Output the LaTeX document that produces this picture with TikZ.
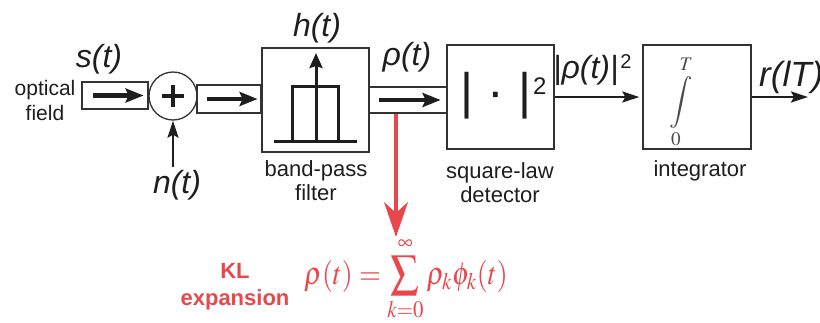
\documentclass[tikz,border=0pt]{standalone}
\usepackage{mathptmx}
\usepackage[no-math]{fontspec}
\setmainfont{Liberation Sans}
\usetikzlibrary{arrows.meta}
\definecolor{klred}{RGB}{232,72,76}
\definecolor{edge}{RGB}{51,51,51}
\definecolor{ink}{RGB}{30,30,30}
\newcommand{\fsz}[1]{\fontsize{#1}{#1}\selectfont}

\begin{document}
\begin{tikzpicture}[x=1pt, y=-1pt,
	blk/.style = {rectangle, draw=edge, line width=1.3pt, minimum width=107pt, minimum height=104pt, inner sep=0pt},
	chan/.style = {rectangle, draw=edge, line width=1.2pt, inner sep=0pt},
	sig/.style = {font=\fsz{32}\itshape, text=ink, inner sep=0pt},
	boxlabel/.style = {font=\fontsize{22}{24}\selectfont, text=ink, align=center, anchor=north, inner sep=0pt},
	bigarr/.style = {-{Stealth[length=18pt, width=14pt, inset=3pt]}, line width=4.5pt, draw=ink},
	smallarr/.style = {-{Stealth[length=17pt, width=11pt, inset=3pt]}, line width=2.5pt, draw=ink},
	klarr/.style = {-{Stealth[length=35pt, width=24pt, inset=11pt]}, line width=3.3pt, draw=klred}
	]
	\useasboundingbox (0,0) rectangle (820,322);
	
	%Nodes
	\node[boxlabel, font=\fontsize{21}{25}\selectfont]	(opt)	at	(45, 80)	{optical\\field};
	\node[chan, minimum width=66pt, minimum height=27pt]	(ch1)	at	(115, 95.5)	{};
	\node[circle, draw=edge, line width=1.3pt, minimum size=48pt, inner sep=0pt]	(sum)	at	(173, 96)	{};
	\node[chan, minimum width=64pt, minimum height=28pt]	(ch2)	at	(229, 99)	{};
	\node[blk]	(bpf)	at	(315.5, 100)	{};
	\node[chan, minimum width=78pt, minimum height=26pt]	(ch3)	at	(408, 100)	{};
	\node[blk]	(det)	at	(500.5, 97)	{};
	\node[blk, minimum width=108pt]	(integ)	at	(697, 97)	{};
	
	\node[boxlabel]	(bpflbl)	at	(316, 160)	{band-pass\\filter};
	\node[boxlabel]	(detlbl)	at	(500, 162)	{square-law\\detector};
	\node[boxlabel]	(intlbl)	at	(700, 160)	{integrator};
	
	\node[sig]	(slbl)		at	(99, 59)	{s(t)};
	\node[sig]	(nlbl)		at	(177, 185)	{n(t)};
	\node[sig]	(hlbl)		at	(317, 28)	{h(t)};
	\node[sig]	(rholbl)	at	(407, 57)	{ρ(t)};
	\node[sig, anchor=west]	(sqlbl)	at	(553, 70)	{|ρ(t)|\kern2pt\raisebox{10pt}{\upshape\fsz{20}2}};
	\node[sig, font=\fsz{35}\itshape, anchor=west]	(rlbl)	at	(759, 77)	{r(lT)};
	
	\node[anchor=base west, inner sep=0pt, text=ink]	(sq)	at	(460.5, 108)	{\fsz{50}|~·~|\kern2pt\raisebox{14pt}{\fsz{24}2}};
	\node[inner sep=0pt, text=black!70]	(intg)	at	(681, 102)	{\fsz{26}$\displaystyle\int\limits_0^T$};
	
	\node[boxlabel, text=klred, font=\fontsize{22}{27}\selectfont\bfseries]	(kltxt)	at	(235, 263)	{KL\\expansion};
	\node[anchor=base, inner sep=0pt, text=klred]	(kleq)	at	(406, 284)	{\scalebox{0.88}[1]{\fsz{32}$\displaystyle\rho(t)=\sum_{k=0}^{\infty}\rho_k\phi_k(t)$}};
	
	\coordinate	(nsrc)	at	(173, 167);
	\coordinate	(rout)	at	(808, 97);
	\coordinate	(kltip)	at	(396, 237);
	
	%Filter icon
	\draw[line width=3pt, draw=ink] (274, 141) -- (357, 141);
	\draw[line width=3pt, draw=ink] (292, 141) |- (338, 86) -- (338, 141);
	\draw[line width=3pt, draw=ink, -{Stealth[length=15pt, width=13pt, inset=2pt]}] (316, 141) -- (316, 53);
	
	%Plus sign
	\draw[line width=4pt, draw=ink] ([xshift=-11pt]sum.center) -- ([xshift=11pt]sum.center);
	\draw[line width=4pt, draw=ink] ([yshift=-11pt]sum.center) -- ([yshift=11pt]sum.center);
	
	%Lines
	\draw[bigarr]	([xshift=12pt]ch1.west)	--	([xshift=-5pt]ch1.east);
	\draw[bigarr]	([xshift=11pt]ch2.west)	--	([xshift=-4pt]ch2.east);
	\draw[bigarr]	([xshift=11pt]ch3.west)	--	([xshift=-7pt]ch3.east);
	\draw[smallarr]	(nsrc)		--	(sum.south);
	\draw[smallarr, shorten >=3pt]	(det.east)	--	(integ.west);
	\draw[smallarr]	(integ.east)	--	(rout);
	\draw[klarr]	(ch3.south -| kltip)	--	(kltip);
	
\end{tikzpicture}
\end{document}
